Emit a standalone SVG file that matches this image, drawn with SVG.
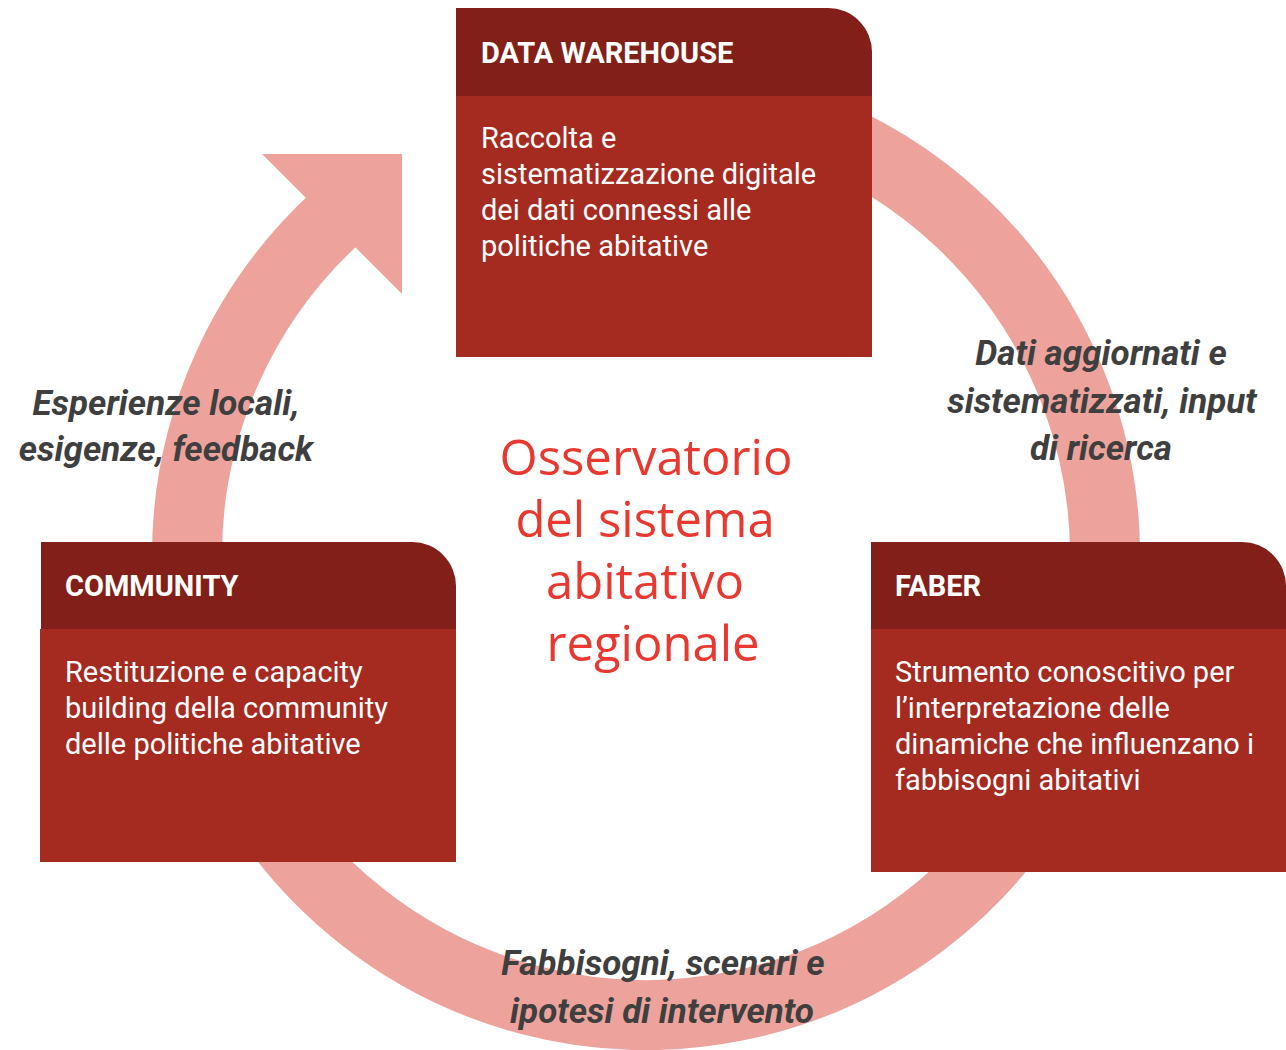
<svg xmlns="http://www.w3.org/2000/svg" width="1286" height="1050" viewBox="0 0 1286 1050">
  <style>
    .hdr { fill: #821F18; }
    .body { fill: #A52A20; }
    .htxt { font-family: Roboto, "Liberation Sans", sans-serif; font-weight: 700; font-size: 29px; fill: #FFFFFF; }
    .btxt { font-family: Roboto, "Liberation Sans", sans-serif; font-weight: 400; font-size: 29px; fill: #FFFFFF; }
    .lbl { font-family: Roboto, "Liberation Sans", sans-serif; font-weight: 700; font-style: italic; font-size: 35px; fill: #3F3F3F; text-anchor: middle; }
    .title { font-family: "Open Sans", "Noto Sans", sans-serif; font-weight: 400; font-size: 49px; fill: #E8382F; text-anchor: middle; }
    .ring { fill: none; stroke: #EDA39C; stroke-width: 70; }
  </style>
  <rect x="0" y="0" width="1286" height="1050" fill="#FFFFFF"/>

  <g id="connectors">
    <path class="ring" d="M 803 124.7 A 459 459 0 1 1 335.9 217.6"/>
    <polygon points="262,154 402,154 402,294" fill="#EDA39C"/>
  </g>

  <g id="node-data-warehouse">
    <path class="hdr" d="M456 8 H828 A44 44 0 0 1 872 52 V96 H456 Z"/>
    <rect class="body" x="456" y="96" width="416" height="261"/>
    <text class="htxt" x="481" y="63">DATA WAREHOUSE</text>
    <text class="btxt" x="481" y="148">Raccolta e</text>
    <text class="btxt" x="481" y="184">sistematizzazione digitale</text>
    <text class="btxt" x="481" y="220">dei dati connessi alle</text>
    <text class="btxt" x="481" y="256">politiche abitative</text>
  </g>

  <g id="node-community">
    <path class="hdr" d="M41 542 H412 A44 44 0 0 1 456 586 V629 H41 Z"/>
    <rect class="body" x="40" y="629" width="416" height="233"/>
    <text class="htxt" x="65" y="596">COMMUNITY</text>
    <text class="btxt" x="65" y="682">Restituzione e capacity</text>
    <text class="btxt" x="65" y="718">building della community</text>
    <text class="btxt" x="65" y="754">delle politiche abitative</text>
  </g>

  <g id="node-faber">
    <path class="hdr" d="M871 542 H1242 A44 44 0 0 1 1286 586 V629 H871 Z"/>
    <rect class="body" x="871" y="629" width="415" height="243"/>
    <text class="htxt" x="895" y="596">FABER</text>
    <text class="btxt" x="895" y="682">Strumento conoscitivo per</text>
    <text class="btxt" x="895" y="718">l’interpretazione delle</text>
    <text class="btxt" x="895" y="754">dinamiche che influenzano i</text>
    <text class="btxt" x="895" y="790">fabbisogni abitativi</text>
  </g>

  <g id="center-title">
    <text class="title" x="646" y="475">Osservatorio</text>
    <text class="title" x="645" y="537">del sistema</text>
    <text class="title" x="645" y="599">abitativo</text>
    <text class="title" x="653" y="661">regionale</text>
  </g>

  <g id="labels">
    <text class="lbl" x="166" y="415">Esperienze locali,</text>
    <text class="lbl" x="166" y="461">esigenze, feedback</text>
    <text class="lbl" x="1101" y="365">Dati aggiornati e</text>
    <text class="lbl" x="1102" y="413">sistematizzati, input</text>
    <text class="lbl" x="1101" y="460">di ricerca</text>
    <text class="lbl" x="663" y="975">Fabbisogni, scenari e</text>
    <text class="lbl" x="662" y="1023">ipotesi di intervento</text>
  </g>
</svg>
